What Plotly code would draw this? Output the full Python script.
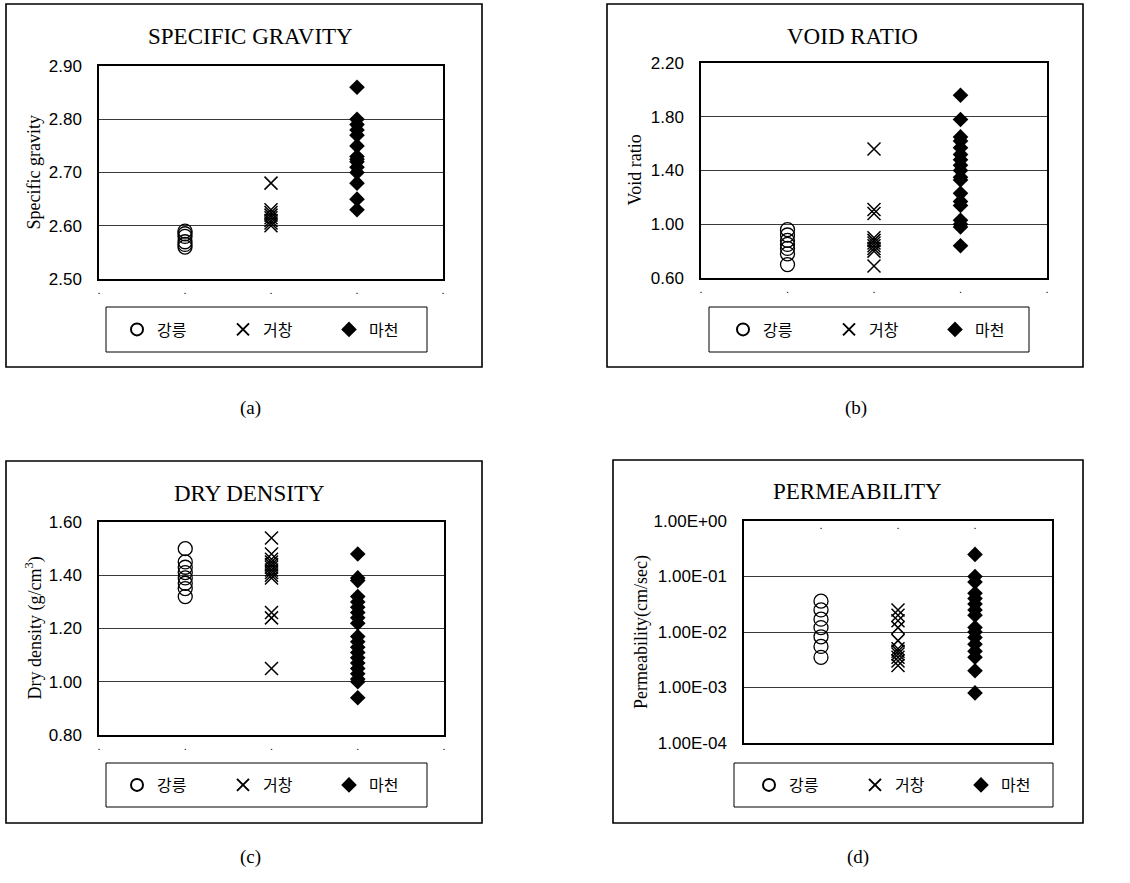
import plotly.graph_objects as go

W, H = 1130, 883

# Sampling sites
stations = ["강릉", "거창", "마천"]

# (a) specific gravity
sg_gangneung = [2.59, 2.585, 2.58, 2.57, 2.565, 2.56]
sg_geochang = [2.68, 2.63, 2.625, 2.62, 2.615, 2.61, 2.605, 2.60]
sg_macheon = [2.86, 2.80, 2.79, 2.78, 2.77, 2.75, 2.73, 2.725, 2.72, 2.71, 2.70, 2.68, 2.65, 2.63]

# (b) void ratio
vr_gangneung = [0.96, 0.92, 0.88, 0.85, 0.82, 0.78, 0.70]
vr_geochang = [1.56, 1.11, 1.08, 0.90, 0.88, 0.86, 0.84, 0.82, 0.80, 0.69]
vr_macheon = [1.96, 1.78, 1.65, 1.62, 1.57, 1.52, 1.48, 1.44, 1.40, 1.35, 1.33,
              1.23, 1.17, 1.14, 1.03, 1.00, 0.98, 0.84]

# (c) dry density, g/cm3
dd_gangneung = [1.50, 1.45, 1.43, 1.41, 1.39, 1.37, 1.35, 1.32]
dd_geochang = [1.54, 1.48, 1.46, 1.45, 1.44, 1.43, 1.42, 1.41, 1.40, 1.39, 1.26, 1.24, 1.05]
dd_macheon = [1.48, 1.39, 1.38, 1.32, 1.30, 1.28, 1.26, 1.24, 1.22, 1.17, 1.15, 1.13,
              1.11, 1.09, 1.07, 1.05, 1.03, 1.01, 1.00, 0.94]

# (d) permeability, cm/sec
k_gangneung = [0.036, 0.025, 0.017, 0.012, 0.0082, 0.0055, 0.0035]
k_geochang = [0.025, 0.02, 0.016, 0.012, 0.007, 0.005, 0.0045, 0.004, 0.0035, 0.003, 0.0025]
k_macheon = [0.25, 0.10, 0.08, 0.05, 0.04, 0.032, 0.025, 0.02, 0.012, 0.01, 0.008,
             0.006, 0.0045, 0.0035, 0.002, 0.0008]

perm_ticks = [1e-4, 1e-3, 1e-2, 1e-1, 1e0]
perm_ticktext = ["1.00E-04", "1.00E-03", "1.00E-02", "1.00E-01", "1.00E+00"]


def fx(px):
    return px / W


def fy(py):
    return 1 - py / H


SERIF = "Liberation Serif"
SANS = "Liberation Sans"
KR = "Noto Sans CJK KR"

marker_styles = [
    dict(symbol="circle-open", size=14, color="black", line=dict(width=1.3, color="black")),
    dict(symbol="x-thin-open", size=13, color="black", line=dict(width=1.5, color="black")),
    dict(symbol="diamond", size=12, color="black", line=dict(width=0)),
]

panels = [
    dict(title="SPECIFIC GRAVITY", ytitle="Specific gravity", caption="(a)",
         series=[sg_gangneung, sg_geochang, sg_macheon],
         box=(6, 4, 482, 367), plot=(99, 66, 443, 279), ytitle_x=33, title_xy=(250, 37),
         legend=(106, 307, 427, 352), legend_x=117, caption_xy=(250, 408),
         yaxis=dict(range=[2.5, 2.9], dtick=0.1, tick0=2.5, tickformat=".2f")),
    dict(title="VOID RATIO", ytitle="Void ratio", caption="(b)",
         series=[vr_gangneung, vr_geochang, vr_macheon],
         box=(607, 4, 1083, 367), plot=(701, 63, 1047, 278), ytitle_x=635, title_xy=(852, 37),
         legend=(709, 307, 1029, 352), legend_x=723, caption_xy=(856, 408),
         yaxis=dict(range=[0.6, 2.2], dtick=0.4, tick0=0.6, tickformat=".2f")),
    dict(title="DRY DENSITY", ytitle="Dry density (g/cm<sup>3</sup>)", caption="(c)",
         series=[dd_gangneung, dd_geochang, dd_macheon],
         box=(6, 461, 482, 823), plot=(99, 522, 444, 735), ytitle_x=34, title_xy=(249, 493),
         legend=(106, 763, 427, 807), legend_x=117, caption_xy=(250, 857),
         yaxis=dict(range=[0.8, 1.6], dtick=0.2, tick0=0.8, tickformat=".2f")),
    dict(title="PERMEABILITY", ytitle="Permeability(cm/sec)", caption="(d)",
         series=[k_gangneung, k_geochang, k_macheon],
         box=(613, 460, 1083, 823), plot=(744, 521, 1052, 743), ytitle_x=641, title_xy=(857, 492),
         legend=(734, 763, 1053, 807), legend_x=749, caption_xy=(858, 857),
         yaxis=dict(type="log", range=[-4, 0], tickvals=perm_ticks,
                    ticktext=perm_ticktext)),
]

fig = go.Figure()
shapes = []
annotations = []
layout = {}

for i, p in enumerate(panels):
    n = "" if i == 0 else str(i + 1)
    legend_name = "legend" + n
    x0, y0, x1, y1 = p["plot"]

    for k, (name, vals) in enumerate(zip(stations, p["series"])):
        fig.add_trace(go.Scatter(
            x=[k + 1] * len(vals), y=vals, mode="markers", name=name,
            marker=marker_styles[k], xaxis="x" + n, yaxis="y" + n,
            legend=legend_name, showlegend=True, cliponaxis=False,
        ))

    is_perm = i == 3
    xa = dict(domain=[fx(x0), fx(x1)], range=[0, 4], anchor="y" + n,
              showgrid=False, zeroline=False, showline=True, mirror=True,
              linecolor="black", linewidth=1.5, ticks="", automargin=False,
              tickfont=dict(family=SANS, size=11, color="black"))
    if is_perm:
        # category marks sit just under the top frame on this chart
        xa.update(tickvals=[1, 2, 3], ticktext=["."] * 3, side="top",
                  ticklabelstandoff=-14)
    else:
        xa.update(tickvals=[0, 1, 2, 3, 4], ticktext=["."] * 5)
    ya = dict(domain=[fy(y1), fy(y0)], anchor="x" + n, showgrid=True,
              gridcolor="#3a3a3a", gridwidth=1, zeroline=False, showline=True,
              mirror=True, linecolor="black", linewidth=1.5, ticks="",
              ticklabelstandoff=12, automargin=False,
              tickfont=dict(family=SANS, size=17, color="black"))
    ya.update(p["yaxis"])
    layout["xaxis" + n] = xa
    layout["yaxis" + n] = ya

    # outer chart frame
    bx0, by0, bx1, by1 = p["box"]
    shapes.append(dict(type="rect", xref="paper", yref="paper",
                       x0=fx(bx0), x1=fx(bx1), y0=fy(by1), y1=fy(by0),
                       line=dict(color="black", width=1.6), layer="below"))
    # legend frame
    lx0, ly0, lx1, ly1 = p["legend"]
    shapes.append(dict(type="rect", xref="paper", yref="paper",
                       x0=fx(lx0), x1=fx(lx1), y0=fy(ly1), y1=fy(ly0),
                       line=dict(color="black", width=1)))
    layout[legend_name] = dict(
        orientation="h", x=fx(p["legend_x"]), xanchor="left",
        y=fy((ly0 + ly1) / 2), yanchor="middle",
        entrywidth=61, entrywidthmode="pixels", itemsizing="constant",
        bgcolor="rgba(0,0,0,0)", borderwidth=0,
        font=dict(family=KR, size=16, color="black"),
    )

    tx, ty = p["title_xy"]
    annotations.append(dict(text=p["title"], xref="paper", yref="paper",
                            x=fx(tx), y=fy(ty), xanchor="center", yanchor="middle",
                            showarrow=False,
                            font=dict(family=SERIF, size=23, color="black")))
    annotations.append(dict(text=p["ytitle"], xref="paper", yref="paper",
                            x=fx(p["ytitle_x"]), y=fy((y0 + y1) / 2), textangle=-90,
                            xanchor="center", yanchor="middle", showarrow=False,
                            font=dict(family=SERIF, size=18, color="black")))
    cx, cy = p["caption_xy"]
    annotations.append(dict(text=p["caption"], xref="paper", yref="paper",
                            x=fx(cx), y=fy(cy), xanchor="center", yanchor="middle",
                            showarrow=False,
                            font=dict(family=SERIF, size=19, color="black")))

fig.update_layout(
    width=W, height=H, margin=dict(l=0, r=0, t=0, b=0, autoexpand=False),
    paper_bgcolor="white", plot_bgcolor="white",
    shapes=shapes, annotations=annotations, **layout,
)

fig.write_html("out.html")
